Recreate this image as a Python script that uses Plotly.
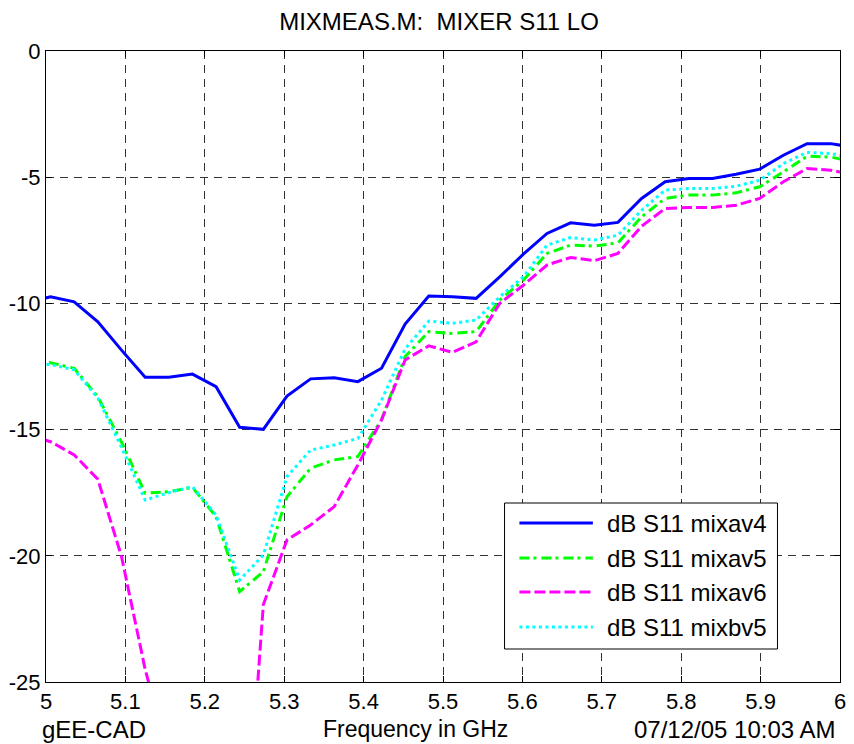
import numpy as np
import plotly.graph_objects as go

# Frequency points (GHz); the first and last fall just outside the plotted range
freq = np.round(np.linspace(4.976, 6.018, 36), 4)

s11_mixav4 = [-9.95, -9.74, -9.94, -10.73, -11.85, -12.93, -12.93, -12.80, -13.30, -14.91,
              -14.99, -13.67, -12.99, -12.95, -13.10, -12.57, -10.82, -9.71, -9.74, -9.80,
              -8.95, -8.05, -7.23, -6.81, -6.90, -6.79, -5.84, -5.18, -5.05, -5.05,
              -4.88, -4.68, -4.13, -3.67, -3.67, -3.82]
s11_mixav5 = [-12.30, -12.35, -12.57, -13.70, -15.50, -17.52, -17.46, -17.29, -18.45, -21.42,
              -20.63, -17.66, -16.53, -16.20, -16.07, -14.60, -12.11, -11.12, -11.19, -11.12,
              -9.87, -9.08, -8.02, -7.69, -7.73, -7.60, -6.57, -5.84, -5.71, -5.71,
              -5.62, -5.38, -4.79, -4.17, -4.20, -4.40]
s11_mixav6 = [-15.20, -15.48, -16.00, -16.97, -20.03, -24.50, -28.00, -33.00, -36.00, -35.00,
              -21.94, -19.37, -18.78, -18.05, -16.40, -14.62, -12.24, -11.68, -11.94, -11.52,
              -10.00, -9.28, -8.48, -8.18, -8.31, -8.02, -6.94, -6.24, -6.20, -6.20,
              -6.11, -5.84, -5.18, -4.66, -4.72, -4.90]
s11_mixbv5 = [-12.40, -12.42, -12.63, -13.75, -15.70, -17.79, -17.50, -17.26, -18.38, -20.96,
              -19.97, -16.86, -15.81, -15.61, -15.35, -13.83, -11.80, -10.70, -10.79, -10.66,
              -9.74, -8.95, -7.69, -7.39, -7.49, -7.30, -6.31, -5.51, -5.45, -5.45,
              -5.36, -5.12, -4.46, -4.02, -4.06, -4.25]

series_names = ["dB S11 mixav4", "dB S11 mixav5", "dB S11 mixav6", "dB S11 mixbv5"]
series_values = [s11_mixav4, s11_mixav5, s11_mixav6, s11_mixbv5]
series_colors = ["#0000ff", "#00ff00", "#ff00ff", "#00ffff"]
series_dash = ["solid", "10px,4px,3px,5px", "11px,4px", "3px,3.5px"]

x_ticks = [5.0, 5.1, 5.2, 5.3, 5.4, 5.5, 5.6, 5.7, 5.8, 5.9, 6.0]
x_tick_labels = ["5", "5.1", "5.2", "5.3", "5.4", "5.5", "5.6", "5.7", "5.8", "5.9", "6"]
y_ticks = [-25, -20, -15, -10, -5, 0]
y_tick_labels = ["-25", "-20", "-15", "-10", "-5", "0"]

FONT = "Arial, 'Liberation Sans', sans-serif"
W, H = 854, 744
ML, MR, MT, MB = 46, 8, 51, 62
PW, PH = W - ML - MR, H - MT - MB


def px_x(p):
    return (p - ML) / PW


def px_y(p):
    return (H - MB - p) / PH


fig = go.Figure()
for name, vals, col, dash in zip(series_names, series_values, series_colors, series_dash):
    fig.add_trace(go.Scatter(x=freq, y=vals, mode="lines", name=name,
                             line=dict(color=col, width=3, dash=dash),
                             showlegend=False))

axis_common = dict(showline=True, linecolor="black", linewidth=1, mirror="allticks",
                   ticks="inside", ticklen=6, tickcolor="black",
                   showgrid=True, gridcolor="#333333", gridwidth=1, griddash="8px,6px",
                   zeroline=False, tickfont=dict(family=FONT, size=22, color="black"))

fig.update_xaxes(range=[5, 6], tickvals=x_ticks, ticktext=x_tick_labels, **axis_common)
fig.update_yaxes(range=[-25, 0], tickvals=y_ticks, ticktext=y_tick_labels, **axis_common)

# Custom legend box (mimics the MATLAB legend)
shapes = [dict(type="rect", xref="paper", yref="paper",
               x0=px_x(508), x1=px_x(783), y0=px_y(649), y1=px_y(503),
               line=dict(color="black", width=1), fillcolor="white", layer="above")]
annotations = []
entry_y = [523, 558, 592, 627]
for name, col, dash, ey in zip(series_names, series_colors, series_dash, entry_y):
    shapes.append(dict(type="line", xref="paper", yref="paper",
                       x0=px_x(523), x1=px_x(597), y0=px_y(ey), y1=px_y(ey),
                       line=dict(color=col, width=3, dash=dash), layer="above"))
    annotations.append(dict(xref="paper", yref="paper", x=px_x(610), y=px_y(ey),
                            xanchor="left", yanchor="middle", text=name, showarrow=False,
                            borderpad=0,
                            font=dict(family=FONT, size=24, color="black")))

bottom_font = dict(family=FONT, size=24, color="black")
annotations += [
    dict(xref="paper", yref="paper", x=px_x(41), y=px_y(729), xanchor="left", yanchor="middle",
         text="gEE-CAD", showarrow=False, borderpad=0, font=bottom_font),
    dict(xref="paper", yref="paper", x=px_x(418), y=px_y(729), xanchor="center", yanchor="middle",
         text="Frequency in GHz", showarrow=False, borderpad=0, font=dict(family=FONT, size=23, color="black")),
    dict(xref="paper", yref="paper", x=px_x(843), y=px_y(729), xanchor="right", yanchor="middle",
         text="07/12/05 10:03 AM", showarrow=False, borderpad=0, font=bottom_font),
]

fig.update_layout(
    width=W, height=H,
    margin=dict(l=ML, r=MR, t=MT, b=MB, pad=0),
    paper_bgcolor="white", plot_bgcolor="white",
    title=dict(text="MIXMEAS.M:  MIXER S11 LO", x=px_x(442), xref="paper", xanchor="center",
               y=1 - 22 / H, yref="container", yanchor="middle",
               font=dict(family=FONT, size=24, color="black")),
    shapes=shapes, annotations=annotations, showlegend=False,
)

fig.write_html("out.html")
